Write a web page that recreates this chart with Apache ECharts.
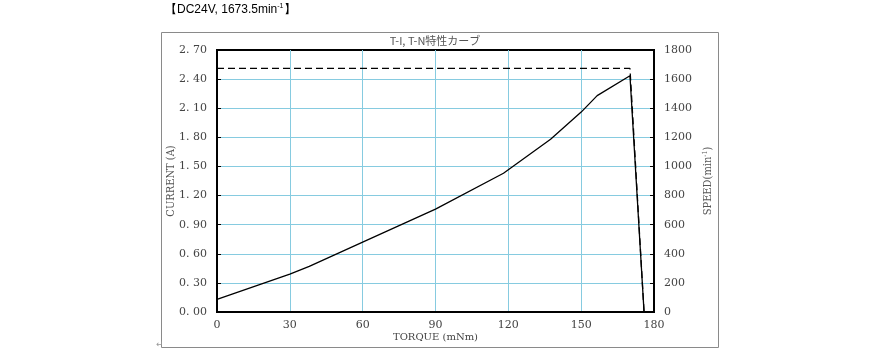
<!DOCTYPE html>
<html>
<head>
<meta charset="utf-8">
<script src="https://cdn.jsdelivr.net/npm/echarts@6/dist/echarts.min.js"></script>
<style>
  html, body { margin: 0; padding: 0; background: #fff; }
  #main { width: 870px; height: 352px; }
</style>
</head>
<body>
<div id="main"></div>
<script>
// データ
var torque = [0, 30, 38, 60, 90, 118, 137.4, 150, 156.6, 170.1, 175.9];
var current = [0.13, 0.39, 0.47, 0.72, 1.06, 1.43, 1.78, 2.06, 2.23, 2.435, 0];
var speedTorque = [0, 170.1, 175.9];
var speed = [1673.5, 1673.5, 0];

function pairs(xs, ys) {
  var arr = [];
  for (var i = 0; i < xs.length; i++) arr.push([xs[i], ys[i]]);
  return arr;
}

var serif = 'DejaVu Serif';
var condensed = 'DejaVu Serif Condensed';
var gridBlue = '#86cbe0';

var myChart = echarts.init(document.getElementById('main'));
var option = {
  backgroundColor: '#fff',
  animation: false,
  title: {
    text: 'T-I, T-N特性カーブ',
    left: 'center',
    top: 30,
    textStyle: { fontFamily: 'Noto Sans CJK JP', fontSize: 11, fontWeight: 'normal', color: '#555' }
  },
  graphic: [
    {
      type: 'rect', left: 159, top: 30, silent: true,
      shape: { width: 557, height: 315 },
      style: { fill: 'none', stroke: '#8a8a8a', lineWidth: 1 }
    },
    {
      type: 'text', left: 165, top: 3,
      style: {
        text: '【DC24V, 1673.5min{s|-1}】',
        font: '12px "Liberation Sans"', fill: '#000',
        rich: { s: { fontSize: 7, verticalAlign: 'top', fill: '#000', padding: [0, 0, 6, 0] } }
      }
    },
    {
      type: 'text', left: 156, top: 340,
      style: { text: '↵', font: '9px "DejaVu Sans"', fill: '#999' }
    }
  ],
  grid: {
    left: 217, right: 216, top: 50, bottom: 40,
    show: true, borderColor: '#000', borderWidth: 2
  },
  xAxis: {
    type: 'value', min: 0, max: 180, interval: 30,
    name: 'TORQUE (mNm)', nameLocation: 'middle', nameGap: 20, nameMoveOverlap: false,
    nameTextStyle: { fontFamily: serif, fontSize: 10, color: '#444' },
    axisLine: { show: true, lineStyle: { color: '#000', width: 2 } },
    axisTick: { show: false },
    axisLabel: { fontFamily: serif, fontSize: 11, color: '#444', margin: 8 },
    splitLine: { show: true, showMinLine: false, showMaxLine: false, lineStyle: { color: gridBlue, width: 1 } }
  },
  yAxis: [
    {
      type: 'value', min: 0, max: 2.7, interval: 0.3,
      name: 'CURRENT (A)', nameLocation: 'middle', nameRotate: 90, nameGap: 40, nameMoveOverlap: false,
      nameTextStyle: { fontFamily: condensed, fontSize: 11, color: '#555' },
      axisLine: { show: true, lineStyle: { color: '#000', width: 2 } },
      axisTick: { show: true, inside: true, length: 4, lineStyle: { color: '#000' } },
      axisLabel: {
        fontFamily: serif, fontSize: 11, color: '#444', margin: 10,
        formatter: function (v) { return v.toFixed(2).replace('.', '. '); }
      },
      splitLine: { show: true, showMinLine: false, showMaxLine: false, lineStyle: { color: gridBlue, width: 1 } }
    },
    {
      type: 'value', min: 0, max: 1800, interval: 200,
      name: 'SPEED(min{s|-1})', nameLocation: 'middle', nameRotate: 90, nameGap: 48, nameMoveOverlap: false,
      nameTextStyle: {
        fontFamily: condensed, fontSize: 11, color: '#555',
        rich: { s: { fontFamily: condensed, fontSize: 7, verticalAlign: 'top', color: '#555', padding: [0, 0, 5, 0] } }
      },
      axisLine: { show: true, lineStyle: { color: '#000', width: 2 } },
      axisTick: { show: true, inside: true, length: 4, lineStyle: { color: '#000' } },
      axisLabel: {
        fontFamily: serif, fontSize: 11, color: '#444', margin: 10,
        formatter: function (v) { return String(v); }
      },
      splitLine: { show: false }
    }
  ],
  series: [
    {
      name: 'CURRENT', type: 'line', yAxisIndex: 0,
      data: pairs(torque, current),
      showSymbol: false, symbol: 'none',
      lineStyle: { color: '#000', width: 1.3, type: 'solid' }
    },
    {
      name: 'SPEED', type: 'line', yAxisIndex: 1,
      data: pairs(speedTorque, speed),
      showSymbol: false, symbol: 'none',
      lineStyle: { color: '#000', width: 1.3, type: [7, 4] }
    }
  ]
};
myChart.setOption(option);
</script>
</body>
</html>
